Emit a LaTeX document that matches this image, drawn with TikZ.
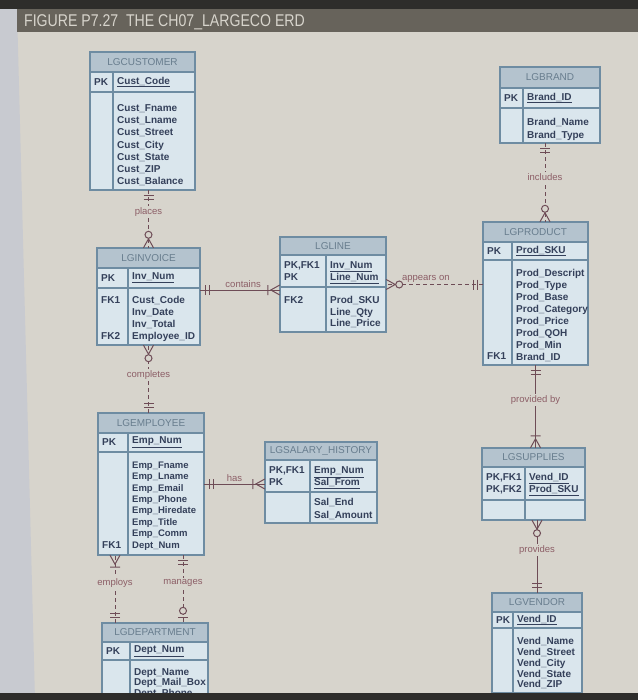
\documentclass[tikz,border=0pt]{standalone}
\usepackage{fontspec}
\setmainfont{Liberation Sans}
\usetikzlibrary{positioning, calc, fit, decorations.markings}
\definecolor{paperGray}{HTML}{D7D4CC}
\definecolor{edgeGray}{HTML}{C8CAD0}
\definecolor{bannerGray}{HTML}{67635B}
\definecolor{bannerDark}{HTML}{2E2D2B}
\definecolor{headBlue}{HTML}{B4C3CE}
\definecolor{rowBlue}{HTML}{DAE6ED}
\definecolor{frameBlue}{HTML}{6E8CA2}
\definecolor{titleBlue}{HTML}{687D8E}
\definecolor{attrInk}{HTML}{34405A}
\definecolor{relMauve}{HTML}{6E4C56}
\definecolor{labelMauve}{HTML}{8C5E66}

% name, x1, y1, x2, y2, header bottom, key bottom, column line
\newcommand{\erbox}[8]{%
  \fill[rowBlue] (#2,#3) rectangle (#4,#5);
  \fill[headBlue] (#2,#3) rectangle (#4,#6);
  \draw[entframe] (#2,#3) rectangle (#4,#5);
  \draw[entframe] (#2,#6) -- (#4,#6) (#2,#7) -- (#4,#7) (#8,#6) -- (#8,#5);
  \node[fit={(#2,#3) (#4,#5)}, inner sep=0pt] (#1) {};
}

\begin{document}
\begin{tikzpicture}[
    x=1pt, y=-1pt,
    entframe/.style={draw=frameBlue, line width=1.1pt},
    enttitle/.style={font=\fontsize{10}{12}\selectfont, text=titleBlue, inner sep=0pt},
    fieldtext/.style={font=\bfseries\fontsize{10}{#1}\selectfont, text=attrInk, align=left, inner sep=0pt, anchor=north west},
    fieldtext/.default=12,
    rel/.style={draw=relMauve, line width=1pt},
    nonid/.style={dash pattern=on 4pt off 3pt},
    markline/.style={solid, draw=relMauve, line width=1pt},
    vlabel/.style={fill=paperGray, text=labelMauve, font=\fontsize{9.5}{11}\selectfont, inner sep=1.5pt},
    hlabel/.style={text=labelMauve, font=\fontsize{9.5}{11}\selectfont, inner sep=1.5pt, anchor=south},
    onemand/.style={postaction={decorate, decoration={markings,
        mark=at position 5pt with {\draw[markline] (0pt,-5pt) -- (0pt,5pt);},
        mark=at position 9pt with {\draw[markline] (0pt,-5pt) -- (0pt,5pt);}}}},
    manymand/.style={postaction={decorate, decoration={markings,
        mark=at position -0.01pt with {\draw[markline] (0pt,5pt) -- (-9pt,0pt) -- (0pt,-5pt) (-12pt,-5pt) -- (-12pt,5pt);}}}},
    manyopt/.style={postaction={decorate, decoration={markings,
        mark=at position -0.01pt with {\draw[markline] (0pt,5pt) -- (-9pt,0pt) -- (0pt,-5pt); \draw[markline, fill=paperGray] (-13pt,0pt) circle (3.5pt);}}}},
    oneopt/.style={postaction={decorate, decoration={markings,
        mark=at position -0.01pt with {\draw[markline] (-5pt,-5pt) -- (-5pt,5pt); \draw[markline, fill=paperGray] (-12pt,0pt) circle (3.5pt);}}}}
]
\useasboundingbox (0,0) rectangle (638,700);
\fill[paperGray] (0,0) rectangle (638,700);
\fill[edgeGray] (0,9) -- (17,9) -- (35,700) -- (0,700) -- cycle;
\fill[bannerDark] (0,0) rectangle (638,9);
\fill[bannerGray] (17,9) rectangle (638,32);
\node[anchor=west, inner sep=0pt, text=paperGray, font=\fontsize{17}{17}\selectfont, xscale=0.83] (fig-title) at (24,22) {FIGURE P7.27\ \ THE CH07\_LARGECO ERD};

\erbox{cust}{90}{52}{195}{190}{72}{92}{113}
\node[enttitle] (cust-title) at (142.5,62) {LGCUSTOMER};
\node[fieldtext, anchor=west] (cust-pk) at (94,82) {PK};
\node[fieldtext, anchor=west] (cust-key) at (117,82) {\underline{Cust\_Code}};
\node[fieldtext=12.2] (cust-attr) at (117,104.4) {Cust\_Fname\\Cust\_Lname\\Cust\_Street\\Cust\_City\\Cust\_State\\Cust\_ZIP\\Cust\_Balance};

\erbox{brand}{500}{67}{600}{143}{88}{108}{523}
\node[enttitle] (brand-title) at (550,77.5) {LGBRAND};
\node[fieldtext, anchor=west] (brand-pk) at (504,98) {PK};
\node[fieldtext, anchor=west] (brand-key) at (527,98) {\underline{Brand\_ID}};
\node[fieldtext=13] (brand-attr) at (527,118.4) {Brand\_Name\\Brand\_Type};

\erbox{prod}{483}{222}{588}{365}{242}{260}{512}
\node[enttitle] (prod-title) at (535.5,232) {LGPRODUCT};
\node[fieldtext, anchor=west] (prod-pk) at (487,251) {PK};
\node[fieldtext, anchor=west] (prod-key) at (516,251) {\underline{Prod\_SKU}};
\node[fieldtext=11.9] (prod-attr) at (516,269.4) {Prod\_Descript\\Prod\_Type\\Prod\_Base\\Prod\_Category\\Prod\_Price\\Prod\_QOH\\Prod\_Min\\Brand\_ID};
\node[fieldtext] (prod-fk1) at (487,352.7) {FK1};

\erbox{inv}{97}{248}{200}{345}{268}{288}{128}
\node[enttitle] (inv-title) at (148.5,258) {LGINVOICE};
\node[fieldtext, anchor=west] (inv-pk) at (101,278) {PK};
\node[fieldtext, anchor=west] (inv-key) at (132,278) {\underline{Inv\_Num}};
\node[fieldtext=12] (inv-attr) at (132,296.4) {Cust\_Code\\Inv\_Date\\Inv\_Total\\Employee\_ID};
\node[fieldtext] (inv-fk1) at (101,296.4) {FK1};
\node[fieldtext] (inv-fk2) at (101,332.4) {FK2};

\erbox{line}{280}{237}{386}{332}{255}{287}{326}
\node[enttitle] (line-title) at (333,246) {LGLINE};
\node[fieldtext=12] (line-pk) at (284,261.4) {PK,FK1\\PK};
\node[fieldtext=12] (line-key) at (330,261.4) {\underline{Inv\_Num}\\\underline{Line\_Num}};
\node[fieldtext=11.5] (line-attr) at (330,296.4) {Prod\_SKU\\Line\_Qty\\Line\_Price};
\node[fieldtext] (line-fk2) at (284,296.4) {FK2};

\erbox{emp}{98}{413}{204}{555}{433}{452}{128}
\node[enttitle] (emp-title) at (151,423) {LGEMPLOYEE};
\node[fieldtext, anchor=west] (emp-pk) at (102,442.5) {PK};
\node[fieldtext, anchor=west] (emp-key) at (132,442.5) {\underline{Emp\_Num}};
\node[fieldtext, font=\bfseries\fontsize{9.5}{11.4}\selectfont] (emp-attr) at (132,461.6) {Emp\_Fname\\Emp\_Lname\\Emp\_Email\\Emp\_Phone\\Emp\_Hiredate\\Emp\_Title\\Emp\_Comm\\Dept\_Num};
\node[fieldtext] (emp-fk1) at (102,541.4) {FK1};

\erbox{sal}{265}{442}{377}{523}{460}{492}{310}
\node[enttitle] (sal-title) at (321,451) {LGSALARY\_HISTORY};
\node[fieldtext=12] (sal-pk) at (269,466.4) {PK,FK1\\PK};
\node[fieldtext=12] (sal-key) at (314,466.4) {\underline{Emp\_Num}\\\underline{Sal\_From}};
\node[fieldtext=12.5] (sal-attr) at (314,498.4) {Sal\_End\\Sal\_Amount};

\erbox{sup}{482}{448}{585}{520}{467}{500}{525}
\node[enttitle] (sup-title) at (533.5,457.5) {LGSUPPLIES};
\node[fieldtext=12] (sup-pk) at (486,473.4) {PK,FK1\\PK,FK2};
\node[fieldtext=12] (sup-key) at (529,473.4) {\underline{Vend\_ID}\\\underline{Prod\_SKU}};

\erbox{vend}{492}{593}{582}{693}{612}{628}{513}
\node[enttitle] (vend-title) at (537,602.5) {LGVENDOR};
\node[fieldtext, anchor=west] (vend-pk) at (496,620) {PK};
\node[fieldtext, anchor=west] (vend-key) at (517,620) {\underline{Vend\_ID}};
\node[fieldtext=10.75] (vend-attr) at (517,637.4) {Vend\_Name\\Vend\_Street\\Vend\_City\\Vend\_State\\Vend\_ZIP};

\erbox{dept}{102}{623}{208}{700}{642}{660}{130}
\node[enttitle] (dept-title) at (155,632.5) {LGDEPARTMENT};
\node[fieldtext, anchor=west] (dept-pk) at (106,651) {PK};
\node[fieldtext, anchor=west] (dept-key) at (134,651) {\underline{Dept\_Num}};
\node[fieldtext=10.5] (dept-attr) at (134,668.4) {Dept\_Name\\Dept\_Mail\_Box\\Dept\_Phone};

\draw[rel, nonid, onemand, manyopt] (cust.south -| inv.north) -- node[vlabel, pos=0.38] (places-lbl) {places} (inv.north);
\draw[rel, onemand, manymand] ([yshift=6.5pt]inv.east) coordinate (contains-a) -- node[hlabel, pos=0.54] (contains-lbl) {contains} (contains-a -| line.west);
\draw[rel, nonid, onemand, manyopt] (line.east -| prod.west) -- node[hlabel, pos=0.59] (appears-lbl) {appears on} (line.east);
\draw[rel, nonid, onemand, manyopt] ([xshift=-5pt]brand.south) coordinate (includes-a) -- node[vlabel, pos=0.43] (includes-lbl) {includes} (includes-a |- prod.north);
\draw[rel, onemand, manymand] (prod.south) -- node[vlabel, pos=0.42] (provby-lbl) {provided by} (prod.south |- sup.north);
\draw[rel, onemand, manyopt] (vend.north) -- node[vlabel, pos=0.59] (provides-lbl) {provides} (vend.north |- sup.south);
\draw[rel, nonid, onemand, manyopt] (inv.south |- emp.north) -- node[vlabel, pos=0.56] (completes-lbl) {completes} (inv.south);
\draw[rel, onemand, manymand] (emp.east) -- node[hlabel, pos=0.5] (has-lbl) {has} (emp.east -| sal.west);
\coordinate (employs-x) at ([xshift=-36pt]emp.south);
\draw[rel, nonid, onemand, manymand] (employs-x |- dept.north) -- node[vlabel, pos=0.59] (employs-lbl) {employs} (employs-x);
\coordinate (manages-x) at ([xshift=32pt]emp.south);
\draw[rel, nonid, onemand, oneopt] (manages-x) -- node[vlabel, pos=0.41] (manages-lbl) {manages} (manages-x |- dept.north);

\fill[bannerDark] (0,693) rectangle (638,700);
\end{tikzpicture}
\end{document}
